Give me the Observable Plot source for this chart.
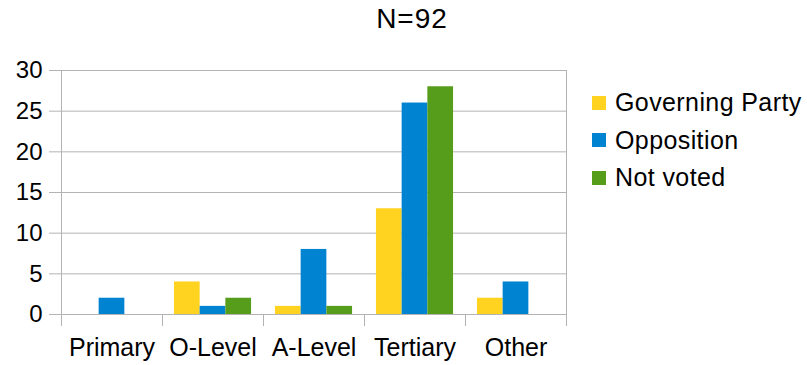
<!DOCTYPE html>
<html><head><meta charset="utf-8">
<script src="https://cdn.jsdelivr.net/npm/d3@7"></script>
<script src="https://cdn.jsdelivr.net/npm/@observablehq/plot@0.6"></script>
<style>
body{margin:0;background:#fff;font-family:"Liberation Sans",Arial,sans-serif;color:#000;}
#wrap{position:relative;width:807px;height:365px;overflow:hidden;}
#title{position:absolute;left:312px;width:200px;top:4px;text-align:center;font-size:28px;line-height:30px;letter-spacing:1px;}
#legend{position:absolute;left:592px;top:84px;font-size:25px;letter-spacing:0.4px;}
.item{display:flex;align-items:center;height:37.5px;}
.sw{width:14px;height:14px;margin-right:9px;}
#wrap svg{position:absolute;left:0;top:0;}
</style></head><body>
<div id="wrap"><div id="title"></div><div id="legend"></div></div>
<script>
const title = "N=92";
const categories = ["Primary", "O-Level", "A-Level", "Tertiary", "Other"];
const series = ["Governing Party", "Opposition", "Not voted"];
const governing = [0, 4, 1, 13, 2];
const opposition = [2, 1, 8, 26, 4];
const notVoted = [0, 2, 1, 28, 0];
const colors = ["#ffd320", "#0084d1", "#579d1c"];
const yTicks = [0, 5, 10, 15, 20, 25, 30];

const seriesValues = [governing, opposition, notVoted];
const data = [];
categories.forEach((c, i) => {
  series.forEach((s, j) => data.push({category: c, series: s, value: seriesValues[j][i]}));
});

const grid = "#b3b3b3";
const W = 807, H = 365, mT = 70, mB = 51;
const frameH = H - mT - mB;
const chart = Plot.plot({
  width: W, height: H,
  marginLeft: 61, marginRight: 241, marginTop: mT, marginBottom: mB,
  style: {fontFamily: "'Liberation Sans', Arial, sans-serif", fontSize: "23px", color: "#000", background: "transparent", overflow: "visible"},
  fx: {domain: categories, padding: 0, label: null},
  x: {domain: series, paddingInner: 0, paddingOuter: 0.465, axis: null, round: false},
  y: {domain: [0, 30], label: null},
  color: {domain: series, range: colors},
  marks: [
    Plot.gridY(yTicks, {stroke: grid, strokeOpacity: 1, strokeWidth: 1}),
    Plot.frame({anchor: "left", stroke: grid, strokeOpacity: 1, insetTop: frameH, insetBottom: -11}),
    Plot.frame({anchor: "left", stroke: grid, strokeOpacity: 1, insetBottom: -11, facetAnchor: "left"}),
    Plot.frame({anchor: "right", stroke: grid, strokeOpacity: 1, insetBottom: -11, facetAnchor: "right"}),
    Plot.barY(data, {fx: "category", x: "series", y: "value", fill: "series"}),
    Plot.axisY(yTicks, {tickSize: 12, tickPadding: 7, stroke: grid, strokeOpacity: 1, fill: "#000", label: null, fontSize: 24, letterSpacing: "1.2px"}),
    Plot.axisFx({anchor: "bottom", tickSize: 0, tickPadding: 24, label: null, fontSize: 25, fill: "#000", letterSpacing: "0.6px"})
  ]
});
document.getElementById("wrap").prepend(chart);
document.getElementById("title").textContent = title;
const leg = document.getElementById("legend");
series.forEach((s, j) => {
  const it = document.createElement("div");
  it.className = "item";
  const sw = document.createElement("div");
  sw.className = "sw";
  sw.style.background = colors[j];
  const t = document.createElement("span");
  t.textContent = s;
  it.append(sw, t);
  leg.append(it);
});
</script>
</body></html>
